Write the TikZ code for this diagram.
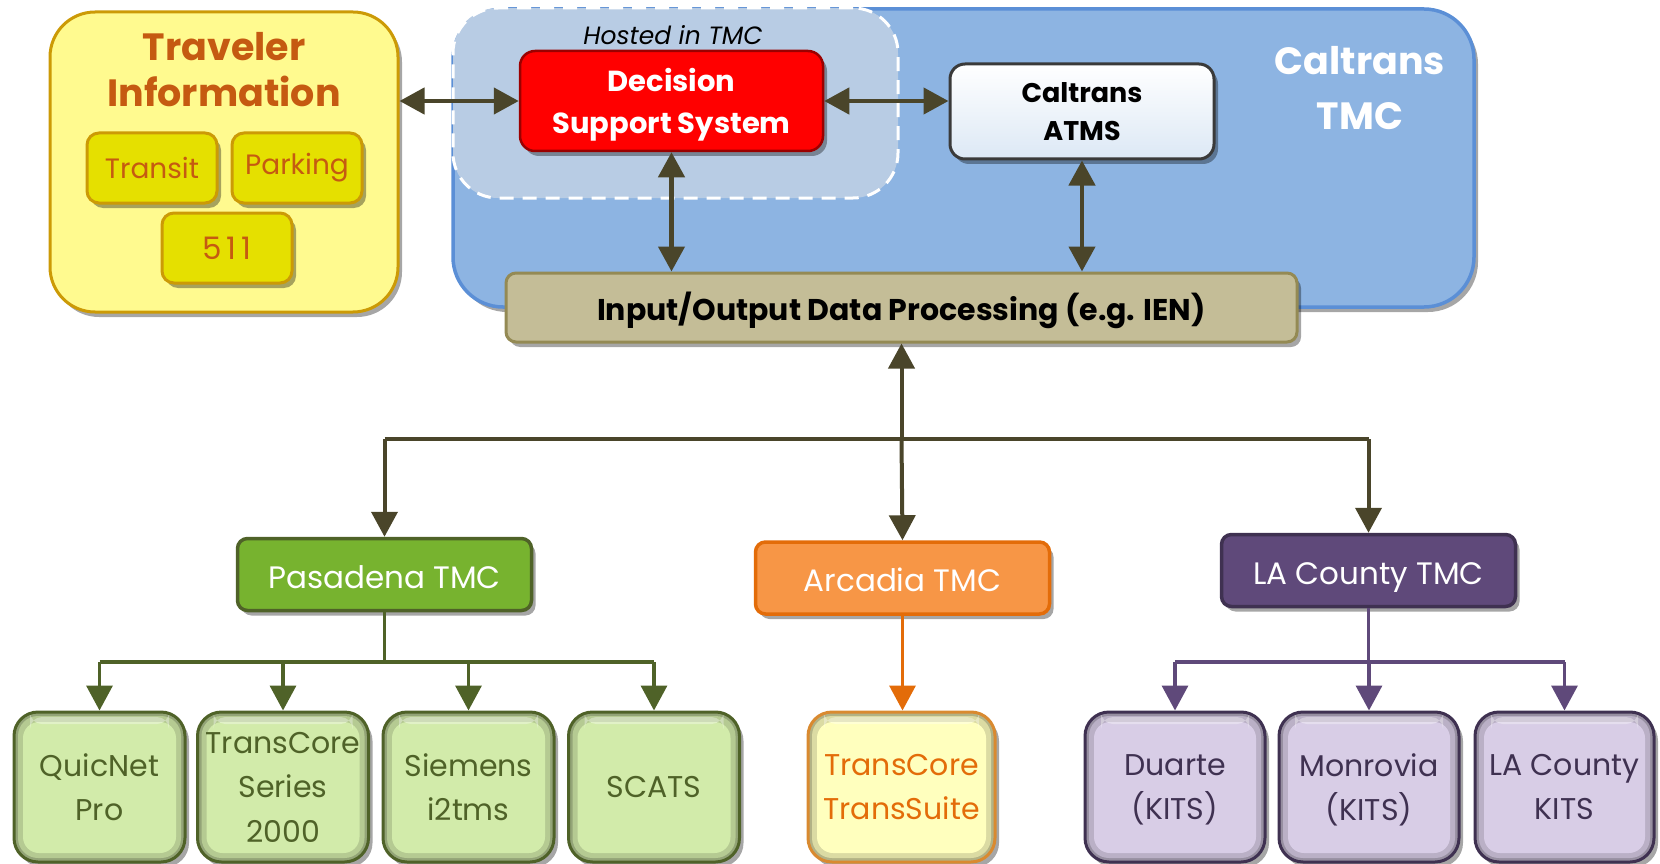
\documentclass[tikz,border=0pt]{standalone}
\usepackage{fontspec}
\setmainfont{Poppins}
\usetikzlibrary{arrows.meta,shadows}
\definecolor{lineC}{HTML}{4A452A}
\definecolor{travF}{HTML}{FFFA8F}
\definecolor{travB}{HTML}{CC9A06}
\definecolor{travT}{HTML}{C55A11}
\definecolor{smallF}{HTML}{E5E000}
\definecolor{blueF}{HTML}{8DB4E2}
\definecolor{blueB}{HTML}{5B8FD6}
\definecolor{hostF}{HTML}{B8CCE4}
\definecolor{dssF}{HTML}{FF0000}
\definecolor{dssB}{HTML}{9B0000}
\definecolor{atmsB}{HTML}{3A3A3A}
\definecolor{atmsF}{HTML}{DCE8F5}
\definecolor{ioF}{HTML}{C4BD97}
\definecolor{ioB}{HTML}{948A54}
\definecolor{pasF}{HTML}{77B32F}
\definecolor{pasB}{HTML}{4F6228}
\definecolor{arcF}{HTML}{F79646}
\definecolor{arcB}{HTML}{E36C09}
\definecolor{laF}{HTML}{5F497A}
\definecolor{laB}{HTML}{3F3151}
\definecolor{gChF}{HTML}{D2EBAA}
\definecolor{oChF}{HTML}{FFFFBE}
\definecolor{oChB}{HTML}{D98A30}
\definecolor{pChF}{HTML}{D8CDE6}
\newcommand\myfs[2]{\fontsize{#1}{#2}\selectfont}
\begin{document}
\begin{tikzpicture}[x=1pt,y=-1pt,
  shad/.style={drop shadow={shadow xshift=4pt,shadow yshift=-5pt,opacity=.35,fill=black}},
  bx/.style={shape=rectangle,inner sep=0pt,align=center,shad},
  smallbox/.style={bx,draw=travB,fill=smallF,line width=3pt,rounded corners=12pt,
     minimum width=130pt,minimum height=70pt,text=travT,font=\myfs{28}{34}},
  tmcbox/.style={bx,line width=3.5pt,rounded corners=10pt,minimum width=294pt,
     minimum height=72pt,text=white,font=\myfs{31}{38},text height=27pt,text depth=0pt},
  bevel/.style={fill=#1!70!black,path picture={
     \fill[#1!86!black,rounded corners=20pt]
       ([xshift=4pt,yshift=-4pt]path picture bounding box.north west) rectangle
       ([xshift=-4pt,yshift=4pt]path picture bounding box.south east);
     \fill[#1,rounded corners=16pt]
       ([xshift=9pt,yshift=-10pt]path picture bounding box.north west) rectangle
       ([xshift=-9pt,yshift=9pt]path picture bounding box.south east);
     \fill[white,opacity=.35,rounded corners=12pt]
       ([xshift=16pt,yshift=-5pt]path picture bounding box.north west) rectangle
       ([xshift=-16pt,yshift=-12pt]path picture bounding box.north east);}},
  gchild/.style={bx,draw=pasB,line width=3pt,rounded corners=24pt,bevel=gChF,
     minimum width=171pt,minimum height=150pt,
     text=pasB,font=\myfs{30}{44.5},text depth=0pt},
  ochild/.style={gchild,draw=oChB,bevel=oChF,text=arcB,minimum width=187pt},
  pchild/.style={gchild,draw=laB,bevel=pChF,text=laB,minimum width=180pt},
  dbl/.style={line width=4.5pt,draw=lineC,
     {Triangle[length=25pt,width=26pt]}-{Triangle[length=25pt,width=26pt]}},
  sgl/.style={line width=4pt,draw=lineC,-{Triangle[length=25pt,width=26pt]}},
  plain/.style={line width=4pt,draw=lineC},
  gl/.style={line width=3.5pt,draw=pasB},
  ga/.style={gl,-{Triangle[length=25pt,width=26pt]}},
  ol/.style={line width=3.5pt,draw=arcB,-{Triangle[length=25pt,width=26pt]}},
  pl/.style={line width=3.5pt,draw=laF},
  pa/.style={pl,-{Triangle[length=25pt,width=26pt]}}
]
\useasboundingbox (0,0) rectangle (1660,864);
\clip (0,0) rectangle (1660,864);

% Traveler information
\node[bx,draw=travB,fill=travF,line width=3pt,rounded corners=45pt,
  minimum width=348pt,minimum height=300pt] (trav) at (224,162) {};
\node[font=\myfs{38}{46}\bfseries,text=travT,align=center] (travlbl) at (224,70) {Traveler\\Information};
\node[smallbox] (transit) at (152,168) {Transit};
\node[smallbox] (parking) at (297,168) {Parking};
\node[smallbox,font=\myfs{31}{34}\addfontfeature{LetterSpace=16}] (n511) at (227,248) {511};

% Caltrans TMC
\node[bx,draw=blueB,fill=blueF,line width=3.5pt,rounded corners=50pt,
  minimum width=1021pt,minimum height=298pt] (tmc) at (963.5,158) {};
\node[font=\myfs{38}{55}\bfseries,text=white,align=center] (tmclbl) at (1360,88) {Caltrans\\TMC};
\node[shape=rectangle,draw=white,fill=hostF,line width=3pt,dash pattern=on 14pt off 9pt,
  rounded corners=45pt,minimum width=445pt,minimum height=190pt] (hosted) at (675.5,103) {};
\node[font=\myfs{25}{28}\itshape] (hostedlbl) at (673,35) {Hosted in TMC};
\node[bx,draw=dssB,fill=dssF,line width=2.5pt,rounded corners=15pt,minimum width=303pt,
  minimum height=100pt,text=white,font=\myfs{29}{42}\bfseries,text depth=0pt] (dss) at (671.5,101) {Decision\\Support System};
\node[bx,draw=atmsB,top color=white,bottom color=atmsF,line width=3pt,rounded corners=15pt,
  minimum width=264pt,minimum height=95pt,font=\myfs{27}{38}\bfseries] (atms) at (1082,111.5) {Caltrans\\ATMS};
\node[bx,draw=ioB,fill=ioF,line width=3pt,rounded corners=10pt,minimum width=791pt,
  minimum height=69pt,font=\myfs{30}{34}\bfseries,text depth=2pt] (io) at (901.5,307.5) {Input/Output Data Processing (e.g. IEN)};

% TMCs
\node[tmcbox,draw=pasB,fill=pasF] (pas) at (384.5,574.5) {Pasadena TMC};
\node[tmcbox,draw=arcB,fill=arcF] (arc) at (902.5,578) {Arcadia TMC};
\node[tmcbox,draw=laB,fill=laF] (la) at (1368.5,570.5) {LA County TMC};

% children
\node[gchild] (quic) at (99.5,787) {QuicNet\\Pro};
\node[gchild] (tcs) at (283,787) {TransCore\\Series\\2000};
\node[gchild] (sie) at (468.5,787) {Siemens\\i2tms};
\node[gchild] (scats) at (654,787) {SCATS};
\node[ochild] (tsuite) at (901.5,787) {TransCore\\TransSuite};
\node[pchild] (duarte) at (1175,787) {Duarte\\(KITS)};
\node[pchild] (monr) at (1369,787) {Monrovia\\(KITS)};
\node[pchild,minimum width=179pt] (lakits) at (1564.5,787) {LA County\\KITS};

% connectors top
\draw[dbl] (dss.west -| trav.east) -- (dss.west);
\draw[dbl] (dss.east) -- (dss.east -| atms.west);
\draw[dbl] (dss.south) -- (dss.south |- io.north);
\draw[dbl] (atms.south) -- (atms.south |- io.north);

\coordinate (j) at (901.5,439);
\draw[plain] (pas.north |- j) -- (la.north |- j);
\draw[sgl] (j) -- (io.south);
\draw[sgl] (pas.north |- j) -- (pas.north);
\draw[sgl] (j) -- (arc.north);
\draw[sgl] (la.north |- j) -- (la.north);

% green tree
\coordinate (gj) at (384.5,662);
\draw[gl] (pas.south) -- (gj);
\draw[gl] (quic.north |- gj) -- (scats.north |- gj);
\draw[ga] (quic.north |- gj) -- (quic.north);
\draw[ga] (tcs.north |- gj) -- (tcs.north);
\draw[ga] (sie.north |- gj) -- (sie.north);
\draw[ga] (scats.north |- gj) -- (scats.north);

% orange
\draw[ol] (arc.south) -- (arc.south |- tsuite.north);

% purple tree
\coordinate (pj) at (1368.5,662);
\draw[pl] (la.south) -- (pj);
\draw[pl] (duarte.north |- pj) -- (lakits.north |- pj);
\draw[pa] (duarte.north |- pj) -- (duarte.north);
\draw[pa] (monr.north |- pj) -- (monr.north);
\draw[pa] (lakits.north |- pj) -- (lakits.north);
\end{tikzpicture}
\end{document}
